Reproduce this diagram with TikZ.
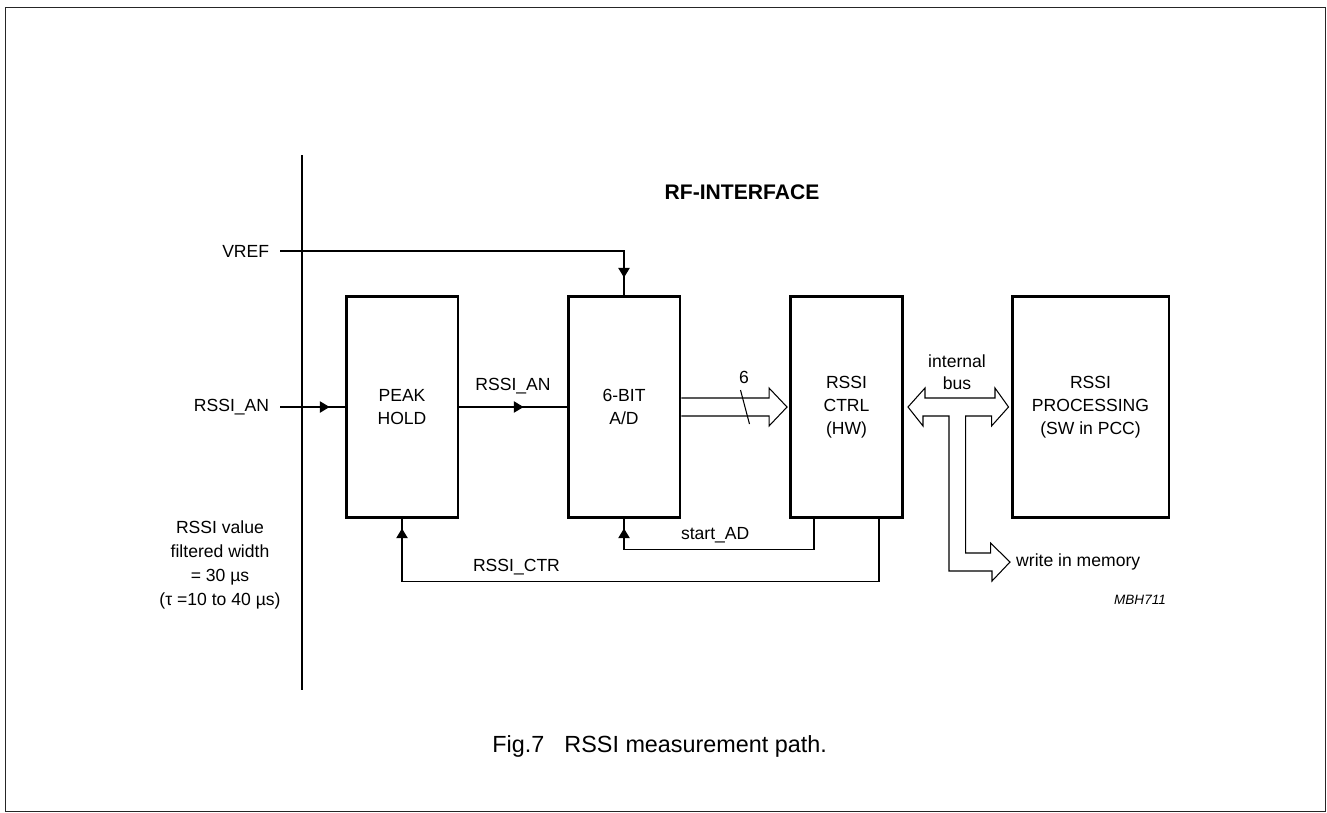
\documentclass[tikz,border=0pt]{standalone}
\usepackage{fontspec}
\setmainfont{Liberation Sans}
\usetikzlibrary{arrows.meta, positioning, calc, decorations.markings}

\begin{document}
\begin{tikzpicture}[
        x=0.02cm, y=-0.02cm,
        every node/.style={font=\fontsize{10}{13.2}\selectfont},
        box/.style={draw, line width=1.7pt, align=center, minimum width=2.24cm, minimum height=4.44cm, inner sep=0pt},
        lbl/.style={inner xsep=6pt, inner ysep=1pt},
        wire/.style={line width=0.6pt},
        tipat/.style={postaction={decorate}, decoration={markings, mark=at position #1 with {\arrow{Triangle[length=5.5pt, width=6.5pt]}}}},
        bus/.style={line width=0.6pt, line join=miter}
    ]
    \useasboundingbox (0,0) rectangle (1327,812);
    \draw[line width=1.1pt, black!85] (5.5,7.5) rectangle (1325.5,811.5);

    % interface bar and titles
    \draw[line width=1.7pt] (302,155) -- (302,690);
    \node[font=\fontsize{12}{14}\selectfont\bfseries] (title) at (742,192) {RF-INTERFACE};
    \node[align=center, font=\fontsize{10}{13.6}\selectfont] (note) at (220,565) {RSSI value\\filtered width\\= 30 µs\\(τ =10 to 40 µs)};

    % blocks
    \node[box] (peak) at (402,407) {PEAK\\HOLD};
    \node[box] (adc) at (624,407) {6-BIT\\A/D};
    \node[box] (ctrl) at (846.5,407) {RSSI\\CTRL\\(HW)};
    \node[box, minimum width=3.14cm] (proc) at (1090.5,407) {RSSI\\PROCESSING\\(SW in PCC)};

    % inputs
    \node[lbl, anchor=east] (vref) at (280,251) {VREF};
    \node[lbl, anchor=east] (anin) at (280,407) {RSSI\_AN};
    \draw[wire, tipat=-0.34cm] (vref.east) -| (adc.north);
    \draw[wire, tipat=-0.3cm] (anin.east) -- (peak.west);
    \draw[wire, tipat=1.28cm] (peak.east) -- node[above=4pt] (anmid) {RSSI\_AN} (adc.west);

    % control lines
    \draw[wire, tipat=-0.18cm] ($(ctrl.south)+(-32.5,0)$) -- ++(0,30) -| node[pos=0.26, above] (startad) {start\_AD} (adc.south);
    \draw[wire, tipat=-0.18cm] ($(ctrl.south)+(32.5,0)$) -- ++(0,62) -| node[pos=0.38, above] (ctr) {RSSI\_CTR} (peak.south);

    % 6 bit bus
    \draw[bus] ($(adc.east)+(0,-9)$) -| ($(ctrl.west)+(-20,-19)$) -- ($(ctrl.west)+(-2,0)$) -- ($(ctrl.west)+(-20,19)$) |- ($(adc.east)+(0,9)$);
    \draw[wire] ($(adc.east)+(59,-17)$) node[above, xshift=2pt] (six) {6} -- ++(9,34);

    % internal bus
    \coordinate (busL) at ($(ctrl.east)+(4,0)$);
    \coordinate (busR) at ($(proc.west)+(-2,0)$);
    \node[anchor=west] (mem) at (1010,562) {write in memory};
    \node[align=center, font=\fontsize{10}{12.5}\selectfont] (ibus) at (957,372) {internal\\bus};
    \draw[bus] (busL) -- ++(17,-19) -- ++(0,10) -- ++(70,0) -- ++(0,-10) -- (busR)
        -- ++(-17,19) -- ++(0,-10) -- ++(-26,0) -- ++(0,137) -- ++(25,0) -- ++(0,-10)
        -- (mem.west) -- ++(-18,19) -- ++(0,-10) -- ++(-43,0) -- ++(0,-155) -- ++(-26,0) -- ++(0,10) -- cycle;

    \node[font=\fontsize{7.7}{9}\selectfont\itshape] (code) at (1140,600) {MBH711};
    \node[font=\fontsize{13.3}{15}\selectfont, anchor=west, inner sep=0pt] (cap) at (492,746) {Fig.7\hspace{11.5pt}RSSI measurement path.};
\end{tikzpicture}
\end{document}
